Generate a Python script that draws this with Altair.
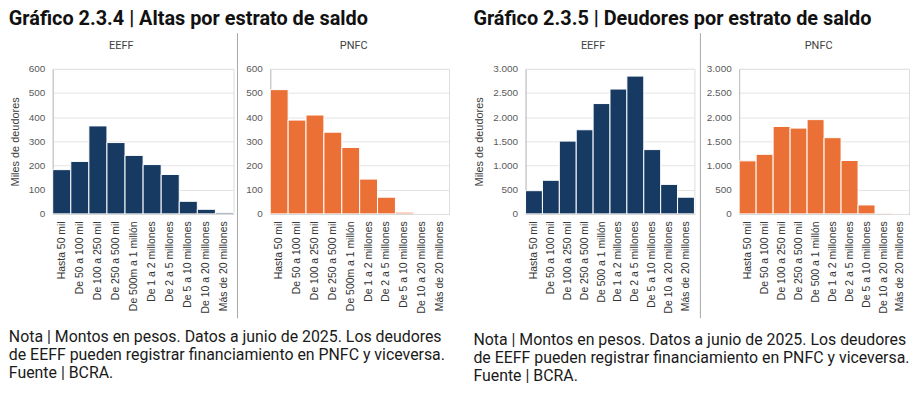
import altair as alt
import pandas as pd

# ---------------- data ----------------
cats_altas = ["Hasta 50 mil", "De 50 a 100 mil", "De 100 a 250 mil", "De 250 a 500 mil",
              "De 500m a 1 millón", "De 1 a 2 millones", "De 2 a 5 millones",
              "De 5 a 10 millones", "De 10 a 20 millones", "Más de 20 millones"]
cats_deud = ["Hasta 50 mil", "De 50 a 100 mil", "De 100 a 250 mil", "De 250 a 500 mil",
             "De 500 a 1 millón", "De 1 a 2 millones", "De 2 a 5 millones",
             "De 5 a 10 millones", "De 10 a 20 millones", "Más de 20 millones"]

altas_eeff = [183, 217, 364, 295, 242, 204, 163, 52, 19, 6]
altas_pnfc = [514, 388, 409, 338, 275, 144, 69, 7, 1, 1]
deud_eeff = [480, 695, 1505, 1740, 2282, 2582, 2850, 1330, 610, 345]
deud_pnfc = [1097, 1232, 1808, 1774, 1950, 1577, 1104, 185, 15, 4]

panels = ["EEFF", "PNFC"]
ticks_altas = [0, 100, 200, 300, 400, 500, 600]
ticks_deud = [0, 500, 1000, 1500, 2000, 2500, 3000]
y_title = "Miles de deudores"
titles = ["Gráfico 2.3.4 | Altas por estrato de saldo",
          "Gráfico 2.3.5 | Deudores por estrato de saldo"]
note_lines = ["Nota | Montos en pesos. Datos a junio de 2025. Los deudores",
              "de EEFF pueden registrar financiamiento en PNFC y viceversa.",
              "Fuente | BCRA."]

NAVY = "#173A63"
ORANGE = "#EA7035"
H = 146
AXFONT = "Liberation Sans"


def panel(cats, vals, color, name, ticks, w, show_ytitle, name_x, sep_x=None):
    df = pd.DataFrame({"cat": cats, "val": vals})
    yaxis = alt.Axis(values=ticks, labelExpr="replace(format(datum.value, ','), ',', '.')",
                     grid=True, gridColor="#E4E4E4", ticks=False, domainColor="#BFBFBF",
                     labelFont=AXFONT, labelFontSize=10, labelColor="#595959", labelPadding=8,
                     titleFont=AXFONT, titleFontSize=11, titleFontWeight="normal",
                     titleColor="#404040", titlePadding=8)
    bars = alt.Chart(df).mark_bar(color=color, stroke="white", strokeWidth=1).encode(
        x=alt.X("cat:N", sort=cats, title=None,
                scale=alt.Scale(paddingInner=0, paddingOuter=0),
                axis=alt.Axis(labelAngle=-90, labelFont=AXFONT, labelFontSize=10.5,
                              labelColor="#333333", labelPadding=7, ticks=False,
                              domainColor="#BFBFBF")),
        y=alt.Y("val:Q", scale=alt.Scale(domain=[0, ticks[-1]], nice=False),
                title=y_title if show_ytitle else None, axis=yaxis),
    )
    ndf = pd.DataFrame({"panel": [name]})
    label = alt.Chart(ndf).mark_text(font="Roboto", fontSize=11, color="#404040",
                                     align="center", baseline="middle").encode(
        x=alt.value(name_x), y=alt.value(-23), text="panel:N")
    layers = [bars, label]
    if sep_x is not None:
        sep = alt.Chart(ndf).mark_rule(color="#A6A6A6", strokeWidth=1).encode(
            x=alt.value(sep_x), y=alt.value(-36), y2=alt.value(H + 105))
        layers.append(sep)
    return alt.layer(*layers).properties(width=w, height=H)


def group(cats, v1, v2, ticks, w1, w2, spacing, title, n1x, n2x, sepx, note_offset):
    inner = alt.hconcat(
        panel(cats, v1, NAVY, panels[0], ticks, w1, True, n1x, sepx),
        panel(cats, v2, ORANGE, panels[1], ticks, w2, False, n2x),
        spacing=spacing, bounds="flush",
    ).properties(title=alt.TitleParams(title, anchor="start", font="Roboto", fontSize=20,
                                       fontWeight="bold", color="#111111", offset=3))
    return alt.vconcat(inner).properties(
        title=alt.TitleParams(note_lines, orient="bottom", anchor="start", font="Roboto",
                              fontSize=16, fontWeight="normal", color="#1A1A1A",
                              lineHeight=18, offset=note_offset))


left = group(cats_altas, altas_eeff, altas_pnfc, ticks_altas, 182, 180, 37, titles[0],
             69, 84, 186, 10)
right = group(cats_deud, deud_eeff, deud_pnfc, ticks_deud, 170, 171, 45, titles[1],
              68, 80, 176, 13)

chart = alt.hconcat(left, right, spacing=23).properties(padding=0).configure_view(
    stroke=None).configure(background="white")

chart.save("out.html", embed_options={"renderer": "svg", "actions": False})
